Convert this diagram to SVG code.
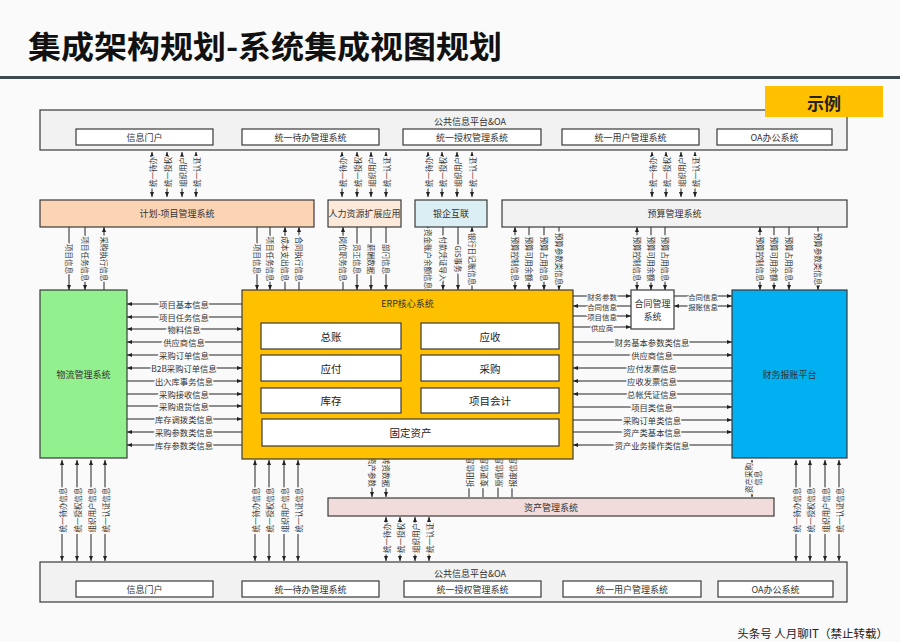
<svg xmlns="http://www.w3.org/2000/svg" width="900" height="642" viewBox="0 0 900 642">
<style>
text{font-family:"Noto Sans CJK SC","Noto Sans",sans-serif}
.b{stroke:#3a3a3a;stroke-width:1.2}
.t{font-size:9px;fill:#333;text-anchor:middle;dominant-baseline:central}
.t2{font-size:10.5px;fill:#222;text-anchor:middle;dominant-baseline:central}
.l{font-size:7.5px;fill:#333;text-anchor:middle;dominant-baseline:central;paint-order:stroke;stroke:#fafafa;stroke-width:3px}
.h{font-size:8.3px;fill:#333;text-anchor:middle;dominant-baseline:central;paint-order:stroke;stroke:#fafafa;stroke-width:3px}
.hs{font-size:7.4px;fill:#333;text-anchor:middle;dominant-baseline:central;paint-order:stroke;stroke:#fafafa;stroke-width:2px}
#conn line{stroke:#222;stroke-width:1}
.e{marker-end:url(#ah)}
.s{marker-start:url(#ah)}
.d{marker-start:url(#ah);marker-end:url(#ah)}
</style>
<defs>
<marker id="ah" viewBox="0 0 10 10" refX="10" refY="5" markerWidth="5" markerHeight="5" orient="auto-start-reverse"><path d="M0,1 L10,5 L0,9 z" fill="#222"/></marker>
</defs>
<rect width="900" height="642" fill="#fafafa"/>
<text x="28" y="58" font-size="31" font-weight="bold" fill="#111" textLength="474" lengthAdjust="spacingAndGlyphs">集成架构规划-系统集成视图规划</text>
<rect x="0" y="76" width="900" height="3" fill="#3d4b50"/>

<g id="conn">
<!-- top platform to row 2 -->
<line class="d" x1="152" y1="152" x2="152" y2="197"/><line class="d" x1="167" y1="152" x2="167" y2="197"/><line class="d" x1="182" y1="152" x2="182" y2="197"/><line class="d" x1="196" y1="152" x2="196" y2="197"/>
<line class="d" x1="342" y1="152" x2="342" y2="197"/><line class="d" x1="357" y1="152" x2="357" y2="197"/><line class="d" x1="371" y1="152" x2="371" y2="197"/><line class="d" x1="386" y1="152" x2="386" y2="197"/>
<line class="d" x1="428" y1="152" x2="428" y2="197"/><line class="d" x1="442" y1="152" x2="442" y2="197"/><line class="d" x1="457" y1="152" x2="457" y2="197"/><line class="d" x1="472" y1="152" x2="472" y2="197"/>
<line class="d" x1="652" y1="152" x2="652" y2="197"/><line class="d" x1="666" y1="152" x2="666" y2="197"/><line class="d" x1="681" y1="152" x2="681" y2="197"/><line class="d" x1="695" y1="152" x2="695" y2="197"/>
<!-- row 2 to row 3 -->
<line class="e" x1="69" y1="227" x2="69" y2="290"/><line class="e" x1="85" y1="227" x2="85" y2="290"/><line class="s" x1="104" y1="227" x2="104" y2="290"/>
<line class="e" x1="257" y1="227" x2="257" y2="290"/><line class="e" x1="270" y1="227" x2="270" y2="290"/><line class="s" x1="285" y1="227" x2="285" y2="290"/><line class="s" x1="299" y1="227" x2="299" y2="290"/>
<line class="s" x1="343" y1="227" x2="343" y2="290"/><line class="e" x1="357" y1="227" x2="357" y2="290"/><line class="e" x1="371" y1="227" x2="371" y2="290"/><line class="e" x1="386" y1="227" x2="386" y2="290"/>
<line class="s" x1="428" y1="227" x2="428" y2="290"/><line class="e" x1="443" y1="227" x2="443" y2="290"/><line class="e" x1="458" y1="227" x2="458" y2="290"/><line class="s" x1="472" y1="227" x2="472" y2="290"/>
<line class="d" x1="515" y1="227" x2="515" y2="290"/><line class="e" x1="529" y1="227" x2="529" y2="290"/><line class="e" x1="544" y1="227" x2="544" y2="290"/><line class="e" x1="559" y1="227" x2="559" y2="290"/>
<line class="d" x1="637" y1="227" x2="637" y2="290"/><line class="e" x1="651" y1="227" x2="651" y2="290"/><line class="e" x1="665" y1="227" x2="665" y2="290"/>
<line class="d" x1="760" y1="227" x2="760" y2="290"/><line class="e" x1="774" y1="227" x2="774" y2="290"/><line class="e" x1="789" y1="227" x2="789" y2="290"/><line class="e" x1="818" y1="227" x2="818" y2="290"/>
<!-- logistics <-> ERP -->
<line class="e" x1="242" y1="304" x2="127" y2="304"/><line class="e" x1="242" y1="317" x2="127" y2="317"/><line class="d" x1="127" y1="329" x2="242" y2="329"/><line class="e" x1="242" y1="342" x2="127" y2="342"/><line class="e" x1="242" y1="355" x2="127" y2="355"/><line class="d" x1="127" y1="368" x2="242" y2="368"/>
<line class="e" x1="127" y1="381" x2="242" y2="381"/><line class="e" x1="127" y1="394" x2="242" y2="394"/><line class="e" x1="127" y1="406" x2="242" y2="406"/><line class="e" x1="127" y1="419" x2="242" y2="419"/><line class="e" x1="242" y1="432" x2="127" y2="432"/><line class="e" x1="242" y1="445" x2="127" y2="445"/>
<!-- ERP <-> contract -->
<line class="e" x1="573" y1="296" x2="631" y2="296"/><line class="e" x1="631" y1="306" x2="573" y2="306"/><line class="e" x1="573" y1="316" x2="631" y2="316"/><line class="e" x1="573" y1="327" x2="631" y2="327"/>
<line class="e" x1="674" y1="296" x2="732" y2="296"/><line class="d" x1="674" y1="306" x2="732" y2="306"/>
<!-- ERP <-> finance -->
<line class="e" x1="573" y1="342" x2="732" y2="342"/><line class="e" x1="573" y1="355" x2="732" y2="355"/><line class="e" x1="732" y1="368" x2="573" y2="368"/><line class="e" x1="732" y1="381" x2="573" y2="381"/><line class="e" x1="732" y1="394" x2="573" y2="394"/>
<line class="e" x1="573" y1="407" x2="732" y2="407"/><line class="e" x1="573" y1="420" x2="732" y2="420"/><line class="e" x1="573" y1="432" x2="732" y2="432"/><line class="e" x1="732" y1="445" x2="573" y2="445"/>
<!-- bottom -->
<line class="d" x1="62" y1="460" x2="62" y2="561"/><line class="d" x1="77" y1="460" x2="77" y2="561"/><line class="d" x1="91" y1="460" x2="91" y2="561"/><line class="d" x1="105" y1="460" x2="105" y2="561"/>
<line class="d" x1="255" y1="460" x2="255" y2="561"/><line class="d" x1="269" y1="460" x2="269" y2="561"/><line class="d" x1="284" y1="460" x2="284" y2="561"/><line class="d" x1="298" y1="460" x2="298" y2="561"/>
<line class="e" x1="372" y1="459" x2="372" y2="497"/><line class="e" x1="386" y1="459" x2="386" y2="497"/>
<line class="e" x1="469" y1="497" x2="469" y2="460"/><line class="e" x1="483" y1="497" x2="483" y2="460"/><line class="e" x1="498" y1="497" x2="498" y2="460"/><line class="e" x1="512" y1="497" x2="512" y2="460"/>
<line class="d" x1="386" y1="517" x2="386" y2="561"/><line class="d" x1="400" y1="517" x2="400" y2="561"/><line class="d" x1="415" y1="517" x2="415" y2="561"/><line class="d" x1="429" y1="517" x2="429" y2="561"/>
<line class="d" x1="752" y1="460" x2="752" y2="497"/>
<line class="d" x1="796" y1="460" x2="796" y2="561"/><line class="d" x1="810" y1="460" x2="810" y2="561"/><line class="d" x1="825" y1="460" x2="825" y2="561"/><line class="d" x1="839" y1="460" x2="839" y2="561"/>
</g>

<g id="conn-labels">
<g transform="translate(0,172)">
<text class="l" transform="translate(152,0) rotate(-90)">统一待办</text><text class="l" transform="translate(167,0) rotate(-90)">统一授权</text><text class="l" transform="translate(182,0) rotate(-90)">组织用户</text><text class="l" transform="translate(196,0) rotate(-90)">统一认证</text>
<text class="l" transform="translate(342,0) rotate(-90)">统一待办</text><text class="l" transform="translate(357,0) rotate(-90)">统一授权</text><text class="l" transform="translate(371,0) rotate(-90)">组织用户</text><text class="l" transform="translate(386,0) rotate(-90)">统一认证</text>
<text class="l" transform="translate(428,0) rotate(-90)">统一待办</text><text class="l" transform="translate(442,0) rotate(-90)">统一授权</text><text class="l" transform="translate(457,0) rotate(-90)">组织用户</text><text class="l" transform="translate(472,0) rotate(-90)">统一认证</text>
<text class="l" transform="translate(652,0) rotate(-90)">统一待办</text><text class="l" transform="translate(666,0) rotate(-90)">统一授权</text><text class="l" transform="translate(681,0) rotate(-90)">组织用户</text><text class="l" transform="translate(695,0) rotate(-90)">统一认证</text>
</g>
<g transform="translate(0,259)">
<text class="l" transform="translate(69,0) rotate(90)">项目信息</text><text class="l" transform="translate(85,0) rotate(90)">项目任务信息</text><text class="l" transform="translate(104,0) rotate(90)">采购执行信息</text>
<text class="l" transform="translate(257,0) rotate(90)">项目信息</text><text class="l" transform="translate(270,0) rotate(90)">项目任务信息</text><text class="l" transform="translate(285,0) rotate(90)">成本支出信息</text><text class="l" transform="translate(299,0) rotate(90)">合同执行信息</text>
<text class="l" transform="translate(343,0) rotate(90)">岗位职务信息</text><text class="l" transform="translate(357,0) rotate(90)">员工信息</text><text class="l" transform="translate(371,0) rotate(90)">薪酬数据</text><text class="l" transform="translate(386,0) rotate(90)">部门信息</text>
<text class="l" transform="translate(428,0) rotate(90)">资金账户余额信息</text><text class="l" transform="translate(443,0) rotate(90)">付款凭证导入</text><text class="l" transform="translate(458,0) rotate(90)">GIS事务</text><text class="l" transform="translate(472,0) rotate(90)">银行日记账信息</text>
<text class="l" transform="translate(515,0) rotate(90)">预算控制信息</text><text class="l" transform="translate(529,0) rotate(90)">预算可用余额</text><text class="l" transform="translate(544,0) rotate(90)">预算占用信息</text><text class="l" transform="translate(559,0) rotate(90)">预算参数类信息</text>
<text class="l" transform="translate(637,0) rotate(90)">预算控制信息</text><text class="l" transform="translate(651,0) rotate(90)">预算可用余额</text><text class="l" transform="translate(665,0) rotate(90)">预算占用信息</text>
<text class="l" transform="translate(760,0) rotate(90)">预算控制信息</text><text class="l" transform="translate(774,0) rotate(90)">预算可用余额</text><text class="l" transform="translate(789,0) rotate(90)">预算占用信息</text><text class="l" transform="translate(818,0) rotate(90)">预算参数类信息</text>
</g>
<text class="h" x="184" y="304">项目基本信息</text><text class="h" x="184" y="317">项目任务信息</text><text class="h" x="184" y="329">物料信息</text><text class="h" x="184" y="342">供应商信息</text><text class="h" x="184" y="355">采购订单信息</text><text class="h" x="184" y="368">B2B采购订单信息</text>
<text class="h" x="184" y="381">出入库事务信息</text><text class="h" x="184" y="394">采购接收信息</text><text class="h" x="184" y="406">采购退货信息</text><text class="h" x="184" y="419">库存调拨类信息</text><text class="h" x="184" y="432">采购参数类信息</text><text class="h" x="184" y="445">库存参数类信息</text>
<text class="hs" x="602" y="296">财务参数</text><text class="hs" x="602" y="306">合同信息</text><text class="hs" x="602" y="316">项目信息</text><text class="hs" x="602" y="327">供应商</text>
<text class="hs" x="703" y="296">合同信息</text><text class="hs" x="703" y="306">报账信息</text>
<text class="h" x="652" y="342">财务基本参数类信息</text><text class="h" x="652" y="355">供应商信息</text><text class="h" x="652" y="368">应付发票信息</text><text class="h" x="652" y="381">应收发票信息</text><text class="h" x="652" y="394">总帐凭证信息</text>
<text class="h" x="652" y="407">项目类信息</text><text class="h" x="652" y="420">采购订单类信息</text><text class="h" x="652" y="432">资产类基本信息</text><text class="h" x="652" y="445">资产业务操作类信息</text>
<g transform="translate(0,510)">
<text class="l" transform="translate(62,0) rotate(-90)">统一待办信息</text><text class="l" transform="translate(77,0) rotate(-90)">统一授权信息</text><text class="l" transform="translate(91,0) rotate(-90)">组织用户信息</text><text class="l" transform="translate(105,0) rotate(-90)">统一认证信息</text>
<text class="l" transform="translate(255,0) rotate(-90)">统一待办信息</text><text class="l" transform="translate(269,0) rotate(-90)">统一授权信息</text><text class="l" transform="translate(284,0) rotate(-90)">组织用户信息</text><text class="l" transform="translate(298,0) rotate(-90)">统一认证信息</text>
<text class="l" transform="translate(796,0) rotate(-90)">统一待办信息</text><text class="l" transform="translate(810,0) rotate(-90)">统一授权信息</text><text class="l" transform="translate(825,0) rotate(-90)">组织用户信息</text><text class="l" transform="translate(839,0) rotate(-90)">统一认证信息</text>
</g>
<g transform="translate(0,538)">
<text class="l" transform="translate(386,0) rotate(-90)">统一待办</text><text class="l" transform="translate(400,0) rotate(-90)">统一授权</text><text class="l" transform="translate(415,0) rotate(-90)">组织用户</text><text class="l" transform="translate(429,0) rotate(-90)">统一认证</text>
</g>
<g transform="translate(0,472)">
<text class="l" transform="translate(372,0) rotate(90)">资产参数</text><text class="l" transform="translate(386,0) rotate(90)">转资数据</text>
<text class="l" transform="translate(469,0) rotate(-90)">折旧信息</text><text class="l" transform="translate(483,0) rotate(-90)">变更信息</text><text class="l" transform="translate(498,0) rotate(-90)">原值信息</text><text class="l" transform="translate(512,0) rotate(-90)">报废信息</text>
</g>
<text class="l" transform="translate(752,478) rotate(-90)"><tspan x="0" dy="-4">资产采购</tspan><tspan x="0" dy="9">信息</tspan></text>
</g>

<g id="top-platform">
<rect class="b" x="40" y="110" width="807" height="40" fill="#f2f2f2"/>
<text class="t" x="470" y="121">公共信息平台&amp;OA</text>
</g>
<g id="top-portal"><rect class="b" x="76" y="129" width="137" height="16" fill="#fff"/><text class="t" x="144.5" y="137">信息门户</text></g>
<g id="top-todo"><rect class="b" x="242" y="129" width="137" height="16" fill="#fff"/><text class="t" x="310.5" y="137">统一待办管理系统</text></g>
<g id="top-auth"><rect class="b" x="403" y="129" width="138" height="16" fill="#fff"/><text class="t" x="472" y="137">统一授权管理系统</text></g>
<g id="top-user"><rect class="b" x="562" y="129" width="137" height="16" fill="#fff"/><text class="t" x="630.5" y="137">统一用户管理系统</text></g>
<g id="top-oa"><rect class="b" x="717" y="129" width="115" height="16" fill="#fff"/><text class="t" x="774.5" y="137">OA办公系统</text></g>
<g id="example"><rect x="765" y="86" width="118" height="31" fill="#ffc000"/><text x="824" y="102" font-size="17" font-weight="bold" fill="#222" text-anchor="middle" dominant-baseline="central">示例</text></g>

<g id="plan"><rect class="b" x="40" y="200" width="274" height="27" fill="#fbd4b4"/><text class="t" x="177" y="213.5" font-size="8">计划-项目管理系统</text></g>
<g id="hr"><rect class="b" x="328" y="200" width="73" height="27" fill="#fde9d9"/><text class="t" x="364.5" y="213.5">人力资源扩展应用</text></g>
<g id="bank"><rect class="b" x="415" y="200" width="72" height="27" fill="#daeef3"/><text class="t" x="451" y="213.5">银企互联</text></g>
<g id="budget"><rect class="b" x="502" y="200" width="345" height="27" fill="#f2f2f2"/><text class="t" x="674.5" y="213.5" font-size="8">预算管理系统</text></g>

<g id="logistics"><rect class="b" x="40" y="290" width="87" height="168" fill="#92f08f"/><text class="t" x="83.5" y="374" font-size="8" fill="#1d5a1d">物流管理系统</text></g>
<g id="erp">
<rect class="b" x="242" y="290" width="331" height="169" fill="#ffc000"/>
<text class="t" x="407.5" y="303">ERP核心系统</text>
<rect class="b" x="261" y="323" width="140" height="26" fill="#fff"/><text class="t2" x="331" y="336">总账</text>
<rect class="b" x="421" y="323" width="138" height="26" fill="#fff"/><text class="t2" x="490" y="336">应收</text>
<rect class="b" x="261" y="355" width="140" height="26" fill="#fff"/><text class="t2" x="331" y="368">应付</text>
<rect class="b" x="421" y="355" width="138" height="26" fill="#fff"/><text class="t2" x="490" y="368">采购</text>
<rect class="b" x="261" y="388" width="140" height="25" fill="#fff"/><text class="t2" x="331" y="400.5">库存</text>
<rect class="b" x="421" y="388" width="138" height="25" fill="#fff"/><text class="t2" x="490" y="400.5">项目会计</text>
<rect class="b" x="262" y="419" width="297" height="27" fill="#fff"/><text class="t2" x="410.5" y="432.5">固定资产</text>
</g>
<g id="contract"><rect class="b" x="631" y="290" width="43" height="39" fill="#fff"/><text class="t" x="652.5" y="303" font-size="8">合同管理</text><text class="t" x="652.5" y="316.5" font-size="8">系统</text></g>
<g id="finance"><rect class="b" x="732" y="290" width="115" height="168" fill="#00b0f0"/><text class="t" x="789.5" y="374" font-size="8" fill="#1f3864">财务报账平台</text></g>
<g id="asset"><rect class="b" x="328" y="498" width="446" height="18" fill="#f2dcdb"/><text class="t" x="551" y="507" font-size="8">资产管理系统</text></g>

<g id="bottom-platform">
<rect class="b" x="40" y="562" width="807" height="40" fill="#f2f2f2"/>
<text class="t" x="470" y="573">公共信息平台&amp;OA</text>
</g>
<g id="bot-portal"><rect class="b" x="76" y="581" width="137" height="16" fill="#fff"/><text class="t" x="144.5" y="589">信息门户</text></g>
<g id="bot-todo"><rect class="b" x="242" y="581" width="137" height="16" fill="#fff"/><text class="t" x="310.5" y="589">统一待办管理系统</text></g>
<g id="bot-auth"><rect class="b" x="404" y="581" width="137" height="16" fill="#fff"/><text class="t" x="472.5" y="589">统一授权管理系统</text></g>
<g id="bot-user"><rect class="b" x="563" y="581" width="138" height="16" fill="#fff"/><text class="t" x="632" y="589">统一用户管理系统</text></g>
<g id="bot-oa"><rect class="b" x="718" y="581" width="115" height="16" fill="#fff"/><text class="t" x="775.5" y="589">OA办公系统</text></g>

<text x="888" y="633" font-size="11.5" fill="#222" text-anchor="end" dominant-baseline="central">头条号 人月聊IT（禁止转载）</text>
</svg>
